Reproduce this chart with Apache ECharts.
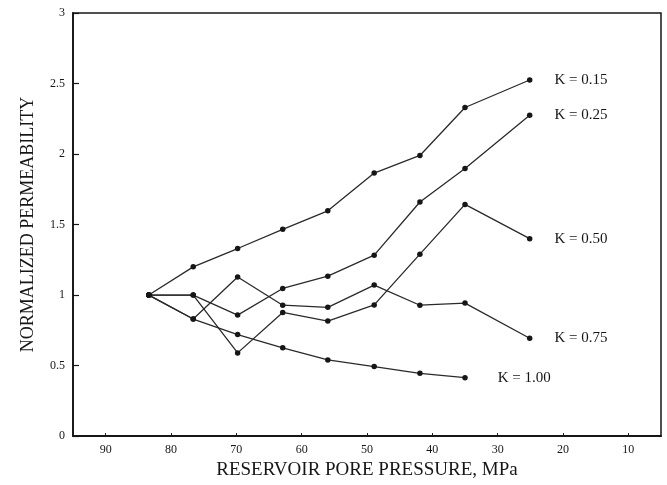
<!DOCTYPE html>
<html>
<head>
<meta charset="utf-8">
<script src="https://cdn.jsdelivr.net/npm/echarts@6/dist/echarts.min.js"></script>
<style>
  html, body { margin: 0; padding: 0; background: #fff; }
  #chart { width: 667px; height: 485px; }
</style>
</head>
<body>
<div id="chart"></div>
<script>
// Reservoir pore pressure (MPa) at each measurement step
const pressure = [83.4, 76.6, 69.8, 62.9, 56.0, 48.9, 41.9, 35.0, 25.1];

// Normalized permeability for each K value
const k015 = [1.0, 1.20, 1.33, 1.466, 1.597, 1.865, 1.99, 2.33, 2.525];
const k025 = [1.0, 1.0, 0.858, 1.047, 1.134, 1.283, 1.66, 1.898, 2.275];
const k050 = [1.0, 1.0, 0.59, 0.877, 0.816, 0.93, 1.29, 1.643, 1.40];
const k075 = [1.0, 0.83, 1.128, 0.928, 0.913, 1.071, 0.928, 0.943, 0.694];
const k100 = [1.0, 0.83, 0.72, 0.626, 0.54, 0.493, 0.445, 0.414];

const seriesNames = ['K = 0.15', 'K = 0.25', 'K = 0.50', 'K = 0.75', 'K = 1.00'];

// Tick labels
const xTicks = [90, 80, 70, 60, 50, 40, 30, 20, 10];
const yTicks = [0, 0.5, 1, 1.5, 2, 2.5, 3];

const FONT = '"Liberation Serif", "DejaVu Serif", serif';
const INK = '#161616';

// Builds [pressure, value] points; the last point carries the curve's name
function points(name, values, gap) {
  return values.map((v, i) => {
    const item = { value: [pressure[i], v] };
    if (i === values.length - 1) {
      item.label = {
        show: true,
        position: 'right',
        distance: gap,
        formatter: name,
        color: INK,
        fontFamily: FONT,
        fontSize: 15
      };
    }
    return item;
  });
}

function makeSeries(name, values, gap) {
  return {
    name: name,
    type: 'line',
    data: points(name, values, gap),
    symbol: 'circle',
    symbolSize: 5.5,
    lineStyle: { color: '#2a2a2a', width: 1.3 },
    itemStyle: { color: INK },
    label: { show: false },
    animation: false,
    z: 3
  };
}

const chart = echarts.init(document.getElementById('chart'), null, { renderer: 'canvas' });

chart.setOption({
  backgroundColor: '#fff',
  animation: false,
  grid: {
    left: 73, right: 6, top: 13, bottom: 43,
    show: true,
    borderColor: INK,
    borderWidth: 1.5,
    backgroundColor: 'transparent'
  },
  xAxis: {
    type: 'value',
    min: 5,
    max: 95,
    inverse: true,
    name: 'RESERVOIR PORE PRESSURE, MPa',
    nameLocation: 'middle',
    nameGap: 22,
    nameTextStyle: { color: INK, fontFamily: FONT, fontSize: 19 },
    axisLine: { show: true, lineStyle: { color: INK, width: 1.8 } },
    axisTick: {
      show: true, inside: true, length: 3,
      customValues: xTicks,
      lineStyle: { color: INK, width: 1 }
    },
    axisLabel: {
      show: true,
      customValues: xTicks,
      margin: 8,
      color: INK,
      fontFamily: FONT,
      fontSize: 12
    },
    splitLine: { show: false }
  },
  yAxis: {
    type: 'value',
    min: 0,
    max: 3,
    interval: 0.5,
    name: 'NORMALIZED PERMEABILITY',
    nameLocation: 'middle',
    nameGap: 36,
    nameTextStyle: { color: INK, fontFamily: FONT, fontSize: 18 },
    axisLine: { show: true, lineStyle: { color: INK, width: 1.8 } },
    axisTick: {
      show: true, inside: true, length: 6,
      customValues: yTicks,
      lineStyle: { color: INK, width: 1.2 }
    },
    axisLabel: {
      show: true,
      customValues: yTicks,
      margin: 8,
      color: INK,
      fontFamily: FONT,
      fontSize: 12
    },
    splitLine: { show: false }
  },
  series: [
    makeSeries(seriesNames[0], k015, 22),
    makeSeries(seriesNames[1], k025, 22),
    makeSeries(seriesNames[2], k050, 22),
    makeSeries(seriesNames[3], k075, 22),
    makeSeries(seriesNames[4], k100, 30)
  ]
});
</script>
</body>
</html>
